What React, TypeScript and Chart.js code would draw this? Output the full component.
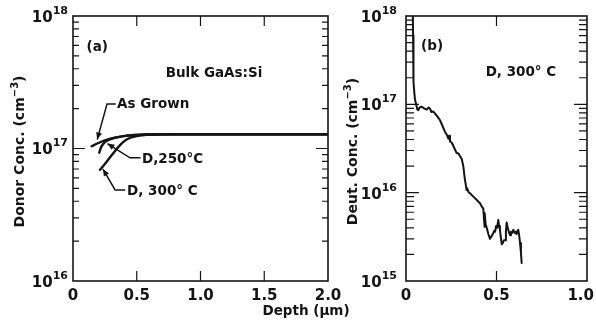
import React, { useEffect, useRef } from "react";
import { Chart, registerables } from "chart.js";

Chart.register(...registerables);

// ---------- Panel (a): donor concentration vs depth ----------
const grownDepth = [0.146, 0.2, 0.25, 0.3, 0.35, 0.42, 0.5, 0.6, 0.8, 1.0, 1.5, 2.0];
const grownConc = [1.04e17, 1.1e17, 1.15e17, 1.19e17, 1.22e17, 1.25e17, 1.27e17, 1.28e17, 1.28e17, 1.28e17, 1.28e17, 1.28e17];

const d250Depth = [0.206, 0.22, 0.24, 0.27, 0.32, 0.4, 0.5, 0.6, 0.8, 1.0, 1.5, 2.0];
const d250Conc = [9.3e16, 1.02e17, 1.09e17, 1.15e17, 1.2e17, 1.24e17, 1.26e17, 1.275e17, 1.28e17, 1.28e17, 1.28e17, 1.28e17];

const d300Depth = [0.212, 0.264, 0.316, 0.369, 0.42, 0.5, 0.6, 0.7, 0.8, 1.0, 1.5, 2.0];
const d300Conc = [6.9e16, 7.95e16, 9.2e16, 1.06e17, 1.17e17, 1.24e17, 1.27e17, 1.28e17, 1.28e17, 1.28e17, 1.28e17, 1.28e17];

const depthTicksA = [0, 0.5, 1.0, 1.5, 2.0];
const depthLabelsA = ["0", "0.5", "1.0", "1.5", "2.0"];

// ---------- Panel (b): deuterium concentration vs depth ----------
const deutDepth = [
  0.038, 0.039, 0.04, 0.041, 0.043, 0.046, 0.05, 0.056, 0.062, 0.068, 0.075, 0.087, 0.1, 0.114, 0.125,
  0.133, 0.14, 0.15, 0.16, 0.175, 0.188, 0.2, 0.215, 0.226, 0.234, 0.238, 0.243, 0.252, 0.261, 0.27,
  0.28, 0.289, 0.298, 0.308, 0.317, 0.322, 0.326, 0.335, 0.338, 0.345, 0.355, 0.363, 0.375, 0.39, 0.4,
  0.409, 0.418, 0.427, 0.431, 0.433, 0.436, 0.44, 0.446, 0.455, 0.464, 0.472, 0.48, 0.487, 0.492, 0.498,
  0.503, 0.51, 0.514, 0.519, 0.524, 0.529, 0.535, 0.541, 0.547, 0.552, 0.556, 0.56, 0.565, 0.57, 0.575,
  0.58, 0.586, 0.593, 0.6, 0.605, 0.611, 0.616, 0.62, 0.625, 0.63, 0.635, 0.639,
];
const deutConc = [
  9.8e17, 6e17, 4e17, 2.6e17, 1.8e17, 1.35e17, 1.12e17, 1.0e17, 8.8e16, 8.6e16, 9.2e16, 9.4e16, 9.0e16, 8.7e16, 9.2e16,
  8.9e16, 8.2e16, 8.3e16, 7.9e16, 7.2e16, 6.6e16, 5.8e16, 4.9e16, 4.5e16, 4.1e16, 4.4e16, 3.8e16, 3.7e16, 3.4e16, 3.1e16,
  2.8e16, 2.8e16, 2.6e16, 2.4e16, 1.97e16, 1.6e16, 1.39e16, 1.07e16, 1.12e16, 1.02e16, 9.8e15, 9.4e15, 8.9e15, 8.3e15, 7.9e15,
  7.6e15, 7.0e15, 6.6e15, 5.0e15, 4.1e15, 5.9e15, 4.4e15, 4.0e15, 3.4e15, 3.0e15, 3.2e15, 3.4e15, 3.7e15, 3.6e15, 4.2e15,
  4.0e15, 4.9e15, 4.2e15, 3.8e15, 3.1e15, 2.6e15, 2.7e15, 2.9e15, 2.9e15, 3.6e15, 4.6e15, 4.2e15, 3.8e15, 3.5e15, 3.3e15,
  3.6e15, 3.5e15, 3.8e15, 3.5e15, 3.6e15, 3.4e15, 3.7e15, 3.8e15, 3.3e15, 2.7e15, 2.1e15, 1.6e15,
];

const depthTicksB = [0, 0.5, 1.0];
const depthLabelsB = ["0", "0.5", "1.0"];

const INK = "#141414";
const FONT = '"DejaVu Sans", "Liberation Sans", sans-serif';

type Pt = [number, number];
interface Note { text: string; x: number; y: number; align: CanvasTextAlign }
interface TitlePart { t: string; sup?: boolean }
interface Series { x: number[]; y: number[]; width: number; smooth: boolean }
interface Panel {
  id: string;
  canvasLeft: number;
  canvasWidth: number;
  padding: { left: number; right: number; top: number; bottom: number };
  xMin: number; xMax: number;
  yMinExp: number; yMaxExp: number;
  xTicks: number[]; xLabels: string[];
  yLabelGap: number;
  yMajorLen: number; yMinorLen: number; xTickLen: number;
  series: Series[];
  notes: Note[];
  arrows: Pt[][];
  yTitle: TitlePart[];
  xTitle?: { text: string; dxFromRight: number; dy: number };
}

const panelA: Panel = {
  id: "a",
  canvasLeft: 0,
  canvasWidth: 365,
  padding: { left: 73, right: 37, top: 16, bottom: 45 },
  xMin: 0, xMax: 2,
  yMinExp: 16, yMaxExp: 18,
  xTicks: depthTicksA, xLabels: depthLabelsA,
  yLabelGap: 5,
  yMajorLen: 12, yMinorLen: 6, xTickLen: 10,
  series: [
    { x: grownDepth, y: grownConc, width: 2.4, smooth: true },
    { x: d250Depth, y: d250Conc, width: 2.4, smooth: true },
    { x: d300Depth, y: d300Conc, width: 2.4, smooth: true },
  ],
  notes: [
    { text: "(a)", x: 0.19, y: 5.8e17, align: "center" },
    { text: "Bulk GaAs:Si", x: 1.106, y: 3.7e17, align: "center" },
    { text: "As Grown", x: 0.345, y: 2.13e17, align: "left" },
    { text: "D,250°C", x: 0.541, y: 8.2e16, align: "left" },
    { text: "D, 300° C", x: 0.424, y: 4.7e16, align: "left" },
  ],
  arrows: [
    [[0.335, 2.17e17], [0.267, 2.17e17], [0.19, 1.17e17]],
    [[0.53, 8.5e16], [0.447, 8.5e16], [0.27, 1.09e17]],
    [[0.41, 4.87e16], [0.33, 4.87e16], [0.235, 7.0e16]],
  ],
  yTitle: [{ t: "Donor Conc. (cm" }, { t: "−3", sup: true }, { t: ")" }],
  xTitle: { text: "Depth (μm)", dxFromRight: 22, dy: 30 },
};

const panelB: Panel = {
  id: "b",
  canvasLeft: 330,
  canvasWidth: 266,
  padding: { left: 76, right: 9, top: 16, bottom: 45 },
  xMin: 0, xMax: 1,
  yMinExp: 15, yMaxExp: 18,
  xTicks: depthTicksB, xLabels: depthLabelsB,
  yLabelGap: 9,
  yMajorLen: 13, yMinorLen: 8, xTickLen: 10,
  series: [{ x: deutDepth, y: deutConc, width: 2, smooth: false }],
  notes: [
    { text: "(b)", x: 0.144, y: 4.47e17, align: "center" },
    { text: "D, 300° C", x: 0.635, y: 2.32e17, align: "center" },
  ],
  arrows: [],
  yTitle: [{ t: "Deut. Conc. (cm" }, { t: "−3", sup: true }, { t: ")" }],
};

function drawRotatedTitle(ctx: CanvasRenderingContext2D, cx: number, cy: number, parts: TitlePart[]) {
  ctx.save();
  ctx.translate(cx, cy);
  ctx.rotate(-Math.PI / 2);
  const mainFont = `bold 14px ${FONT}`;
  const supFont = `bold 10px ${FONT}`;
  let total = 0;
  const widths = parts.map((p) => {
    ctx.font = p.sup ? supFont : mainFont;
    const w = ctx.measureText(p.t).width;
    total += w;
    return w;
  });
  let x = -total / 2;
  ctx.textAlign = "left";
  ctx.textBaseline = "alphabetic";
  parts.forEach((p, i) => {
    ctx.font = p.sup ? supFont : mainFont;
    ctx.fillText(p.t, x, p.sup ? -1 : 5);
    x += widths[i];
  });
  ctx.restore();
}

function framePlugin(p: Panel) {
  return {
    id: "frame-" + p.id,
    afterDatasetsDraw(chart: any) {
      const ctx: CanvasRenderingContext2D = chart.ctx;
      const a = chart.chartArea;
      const xs = chart.scales.x;
      const ys = chart.scales.y;
      const cw = chart.width;
      ctx.save();
      ctx.strokeStyle = INK;
      ctx.fillStyle = INK;
      ctx.lineWidth = 1.6;
      ctx.strokeRect(a.left, a.top, a.right - a.left, a.bottom - a.top);

      // tick marks (inward)
      ctx.lineWidth = 1.2;
      ctx.beginPath();
      p.xTicks.forEach((v) => {
        const px = xs.getPixelForValue(v);
        if (px <= a.left + 1 || px >= a.right - 1) return;
        ctx.moveTo(px, a.bottom);
        ctx.lineTo(px, a.bottom - p.xTickLen);
        ctx.moveTo(px, a.top);
        ctx.lineTo(px, a.top + p.xTickLen);
      });
      for (let e = p.yMinExp; e < p.yMaxExp; e++) {
        for (let m = 1; m <= 9; m++) {
          const v = m * Math.pow(10, e);
          const py = ys.getPixelForValue(v);
          if (py >= a.bottom - 0.5 || py <= a.top + 0.5) continue;
          const len = m === 1 ? p.yMajorLen : p.yMinorLen;
          ctx.moveTo(a.left, py);
          ctx.lineTo(a.left + len, py);
          ctx.moveTo(a.right, py);
          ctx.lineTo(a.right - len, py);
        }
      }
      ctx.stroke();

      // x tick labels (kept inside the canvas)
      ctx.font = `bold 15px ${FONT}`;
      ctx.textAlign = "center";
      ctx.textBaseline = "middle";
      p.xTicks.forEach((v, i) => {
        const label = p.xLabels[i];
        const w = ctx.measureText(label).width;
        let cx = xs.getPixelForValue(v);
        if (cx + w / 2 > cw - 2) cx = cw - 2 - w / 2;
        ctx.fillText(label, cx, a.bottom + 15);
      });

      // y tick labels 10^n
      for (let e = p.yMinExp; e <= p.yMaxExp; e++) {
        const py = ys.getPixelForValue(Math.pow(10, e));
        const exp = String(e);
        ctx.textAlign = "right";
        ctx.textBaseline = "middle";
        ctx.font = `bold 11px ${FONT}`;
        const ew = ctx.measureText(exp).width;
        ctx.fillText(exp, a.left - p.yLabelGap, py - 5);
        ctx.font = `bold 15px ${FONT}`;
        ctx.fillText("10", a.left - p.yLabelGap - ew, py + 2);
      }

      // axis titles
      drawRotatedTitle(ctx, a.left - 54, (a.top + a.bottom) / 2 + 3, p.yTitle);
      if (p.xTitle) {
        ctx.font = `bold 13.5px ${FONT}`;
        ctx.textAlign = "center";
        ctx.textBaseline = "middle";
        ctx.fillText(p.xTitle.text, a.right - p.xTitle.dxFromRight, a.bottom + p.xTitle.dy);
      }

      // annotations
      ctx.font = `bold 13.5px ${FONT}`;
      ctx.textBaseline = "middle";
      p.notes.forEach((n) => {
        ctx.textAlign = n.align;
        ctx.fillText(n.text, xs.getPixelForValue(n.x), ys.getPixelForValue(n.y));
      });

      // arrows
      ctx.lineWidth = 1.5;
      p.arrows.forEach((arr) => {
        const pts = arr.map(([x, y]) => [xs.getPixelForValue(x), ys.getPixelForValue(y)]);
        ctx.beginPath();
        pts.forEach(([x, y], i) => (i === 0 ? ctx.moveTo(x, y) : ctx.lineTo(x, y)));
        ctx.stroke();
        const [x1, y1] = pts[pts.length - 2];
        const [x2, y2] = pts[pts.length - 1];
        const ang = Math.atan2(y2 - y1, x2 - x1);
        const L = 7, W = 3;
        ctx.beginPath();
        ctx.moveTo(x2, y2);
        ctx.lineTo(x2 - L * Math.cos(ang) + W * Math.sin(ang), y2 - L * Math.sin(ang) - W * Math.cos(ang));
        ctx.lineTo(x2 - L * Math.cos(ang) - W * Math.sin(ang), y2 - L * Math.sin(ang) + W * Math.cos(ang));
        ctx.closePath();
        ctx.fill();
      });
      ctx.restore();
    },
  };
}

function PanelChart({ panel }: { panel: Panel }) {
  const ref = useRef<HTMLCanvasElement | null>(null);
  useEffect(() => {
    if (!ref.current) return;
    const chart = new Chart(ref.current, {
      type: "line",
      data: {
        datasets: panel.series.map((s) => ({
          data: s.x.map((x, i) => ({ x, y: s.y[i] })),
          borderColor: INK,
          borderWidth: s.width,
          pointRadius: 0,
          fill: false,
          tension: 0,
          cubicInterpolationMode: s.smooth ? "monotone" : "default",
          borderJoinStyle: "round",
          borderCapStyle: "round",
        })),
      },
      options: {
        animation: false,
        responsive: false,
        maintainAspectRatio: false,
        devicePixelRatio: 1,
        events: [],
        layout: { padding: panel.padding },
        plugins: { legend: { display: false }, tooltip: { enabled: false } },
        scales: {
          x: { type: "linear", min: panel.xMin, max: panel.xMax, display: false },
          y: {
            type: "logarithmic",
            min: Math.pow(10, panel.yMinExp),
            max: Math.pow(10, panel.yMaxExp),
            display: false,
          },
        },
      } as any,
      plugins: [framePlugin(panel)],
    } as any);
    return () => chart.destroy();
  }, [panel]);
  return (
    <canvas
      ref={ref}
      width={panel.canvasWidth}
      height={326}
      style={{ position: "absolute", left: panel.canvasLeft, top: 0, width: panel.canvasWidth, height: 326 }}
    />
  );
}

export default function App() {
  return (
    <div style={{ position: "fixed", left: 0, top: 0, width: 596, height: 326, background: "#fff", overflow: "hidden" }}>
      <PanelChart panel={panelA} />
      <PanelChart panel={panelB} />
    </div>
  );
}
